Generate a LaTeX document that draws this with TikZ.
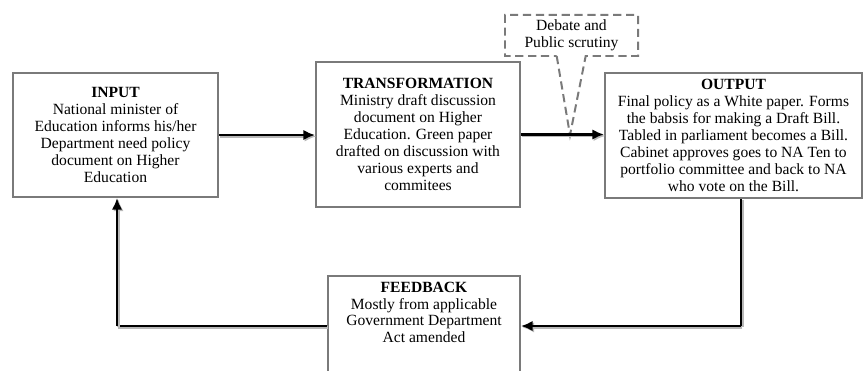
\documentclass[tikz,border=0pt]{standalone}
\usepackage{fontspec}
\setmainfont{Liberation Serif}
\usetikzlibrary{arrows.meta, shapes.callouts}
\definecolor{bxgray}{HTML}{7A7A7A}
\definecolor{shgray}{HTML}{B8B8B8}
\newcommand\boxfont{\fontsize{13.3pt}{14.4pt}\selectfont\lineskiplimit=-10pt\relax}

\tikzset{
  blk/.style={draw=bxgray, line width=1.7pt, fill=white, align=center, inner sep=2pt,
    font=\boxfont},
  flow/.style={line width=2.4pt, -{Latex[length=10pt,width=9pt]},
    preaction={draw=shgray, line width=2.4pt, transform canvas={shift={(1.2pt,-1.2pt)}}}},
  flowline/.style={line width=2.4pt,
    preaction={draw=shgray, line width=2.4pt, transform canvas={shift={(1.2pt,-1.2pt)}}}}
}

\begin{document}
\begin{tikzpicture}[x=0.03cm, y=-0.03cm]
  \useasboundingbox (0,0) rectangle (864,371);
  % boxes
  \node[blk, minimum width=6.15cm, minimum height=3.72cm] (input) at (115.5,135)
    {\textbf{INPUT}\\National minister of\\Education informs his/her\\Department need policy\\document on Higher\\Education};
  \node[blk, minimum width=6.12cm, minimum height=4.35cm] (transform) at (418,134.5)
    {\textbf{TRANSFORMATION}\\Ministry draft discussion\\document on Higher\\Education. Green paper\\drafted on discussion with\\various experts and\\commitees};
  \node[blk, minimum width=7.71cm, minimum height=3.75cm] (output) at (733.5,135.5)
    {\textbf{OUTPUT}\\Final policy as a White paper. Forms\\the babsis for making a Draft Bill.\\Tabled in parliament becomes a Bill.\\Cabinet approves goes to NA Ten to\\portfolio committee and back to NA\\who vote on the Bill.};
  \node[blk, anchor=north, minimum width=5.76cm, inner ysep=5pt, text depth=2cm] (feedback) at (424,275)
    {\textbf{FEEDBACK}\\Mostly from applicable\\Government Department\\Act amended};
  % callout
  \coordinate (tip) at (570,135);
  \node[rectangle callout, draw=bxgray, line width=1.7pt, dash pattern=on 7pt off 4pt,
    fill=white, align=center, minimum width=3.99cm, minimum height=1.23cm, inner sep=1pt,
    callout absolute pointer=(tip), callout pointer width=0.87cm,
    font=\boxfont] (debate) at (571.5,35.5)
    {Debate and\\Public scrutiny};
  % connectors
  \draw[flow] (input.east) -- (input.east -| transform.west);
  \draw[flow] (transform.east) -- (transform.east -| output.west);
  \coordinate (c1) at (741,326);
  \coordinate (c2) at (117,326);
  \draw[flowline] (output.south -| c1) -- (c1);
  \draw[flow] (c1) -- (c1 -| feedback.east);
  \draw[flowline] (c2 -| feedback.west) -- (c2);
  \draw[flow] (c2) -- (c2 |- input.south);
\end{tikzpicture}
\end{document}
